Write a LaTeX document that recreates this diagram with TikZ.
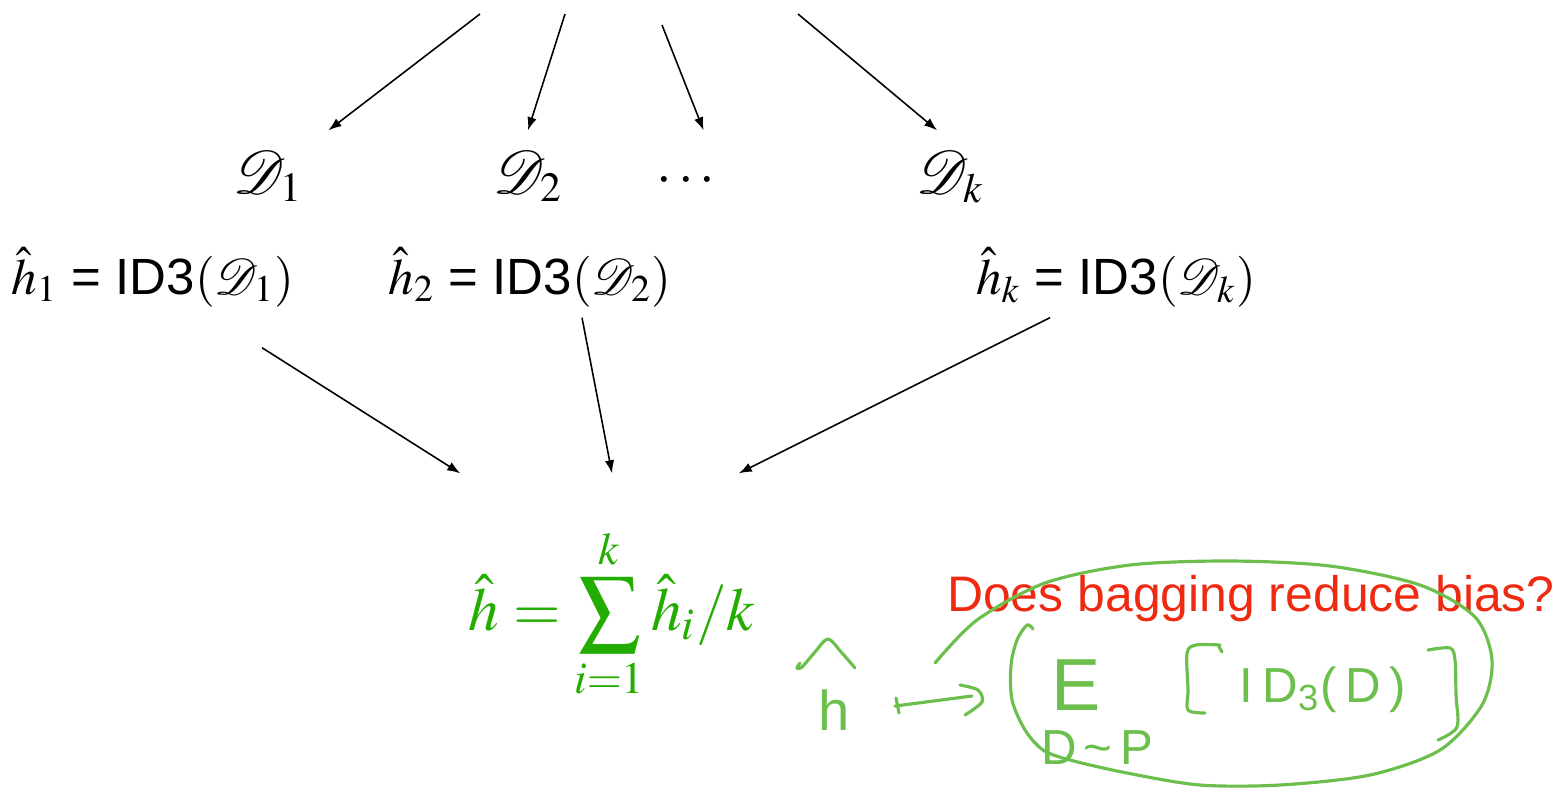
\documentclass[tikz,border=0pt]{standalone}
\usepackage{mathptmx}
\usepackage{mathrsfs}
\usepackage[no-math]{fontspec}
\setmainfont{Liberation Sans}
\usetikzlibrary{arrows.meta,positioning,calc}
\definecolor{ink}{HTML}{000000}
\definecolor{sumgreen}{HTML}{22AD00}
\definecolor{qred}{HTML}{EE2A12}
\definecolor{pen}{HTML}{6CBF4C}
\tikzset{
  arr/.style={-{Latex[length=1.3mm,width=0.95mm]},line width=0.45pt,ink},
  dset/.style={anchor=base,inner sep=2.5mm,text height=3.7mm,text depth=0.8mm,
    font=\fontsize{16}{19}\selectfont},
  hset/.style={anchor=base,inner sep=1mm,text height=4.5mm,text depth=1.3mm},
  penline/.style={pen,line width=0.9pt,line cap=round,line join=round},
  hand/.style={anchor=base,pen,inner sep=0pt}
}

\begin{document}
\begin{tikzpicture}[x=0.1mm,y=-0.1mm,font=\fontsize{14.5}{18}\selectfont]
  \useasboundingbox (0,0) rectangle (1558,787);
  % bootstrap samples
  \coordinate (t1) at (480,14);
  \coordinate (t2) at (565,14);
  \coordinate (t3) at (662,25);
  \coordinate (t4) at (798,14);
  \node[dset] (d1) at (268,193) {$\mathscr{D}_1$};
  \node[dset] (d2) at (528,193) {$\mathscr{D}_2$};
  \node[dset] (dots) at (686,193) {$\cdots$};
  \node[dset] (dk) at (950,193) {$\mathscr{D}_k$};
  \draw[arr] (t1) -- (d1.north east);
  \draw[arr] (t2) -- (d2.north);
  \draw[arr] (t3) -- (dots.70);
  \draw[arr] (t4) -- (dk.105);
  % trees
  \node[hset] (h1) at (153,294) {$\hat{h}_1$ = ID3$(\mathscr{D}_1)$};
  \node[hset] (h2) at (530,294) {$\hat{h}_2$ = ID3$(\mathscr{D}_2)$};
  \node[hset] (hk) at (1116,294) {$\hat{h}_k$ = ID3$(\mathscr{D}_k)$};
  \node[anchor=base,inner xsep=0.8mm,inner ysep=0pt,text height=15.6mm,sumgreen,
    font=\fontsize{17.4}{21}\selectfont] (sum) at (612,630)
    {$\displaystyle \hat{h} = \sum_{i=1}^{k} \hat{h}_i/k$};
  \draw[arr] ($(h1.south)+(109,30)$) -- (sum.north west);
  \draw[arr] ($(h2.south)+(52,0)$) -- (sum.north);
  \draw[arr] ($(hk.south)+(-66,0)$) -- ($(sum.north east)+(-25,0)$);
  % question
  \node[anchor=base,qred,font=\fontsize{14.2}{17}\selectfont] (q) at (1251,611) {Does bagging reduce bias?};
  % pen notes
  \node[hand,font=\fontsize{16}{20}\selectfont] (hh) at (834,730) {h};
  \draw[penline] plot[smooth] coordinates {(800,663) (797,668) (802,667) (815,652) (828,639) (842,653) (855,668)};
  \draw[penline] (896,698) -- (899,713);
  \draw[penline] (895,706) -- (972,696);
  \draw[penline] plot[smooth] coordinates {(960,685) (978,690) (982,702) (965,715)};
  \draw[penline] plot[smooth] coordinates {(935,663) (977,620) (1045,583) (1130,565) (1230,561)
    (1330,566) (1420,585) (1475,617) (1492,660) (1482,705) (1440,750) (1370,775) (1280,785)
    (1200,785) (1127,773) (1070,760) (1043,750) (1025,730) (1012,700) (1011,665) (1017,640)
    (1027,625) (1033,629)};
  \node[hand,font=\fontsize{21}{25}\selectfont] (ee) at (1076,710) {E};
  \node[hand,font=\fontsize{14}{17}\selectfont\addfontfeatures{LetterSpace=15}] (dp) at (1097,764) {D\textasciitilde P};
  \draw[penline] plot[smooth] coordinates {(1218,645) (1222,652)} plot[smooth] coordinates {(1220,645) (1196,645) (1187,653) (1188,690) (1188,710) (1205,713)};
  \node[hand,font=\fontsize{14}{17}\selectfont\addfontfeatures{LetterSpace=18}] (id) at (1323,702) {ID\textsubscript{3}(D)};
  \draw[penline] plot[smooth] coordinates {(1428,650) (1450,648) (1455,660) (1456,695) (1457,727) (1438,740)};
\end{tikzpicture}
\end{document}
